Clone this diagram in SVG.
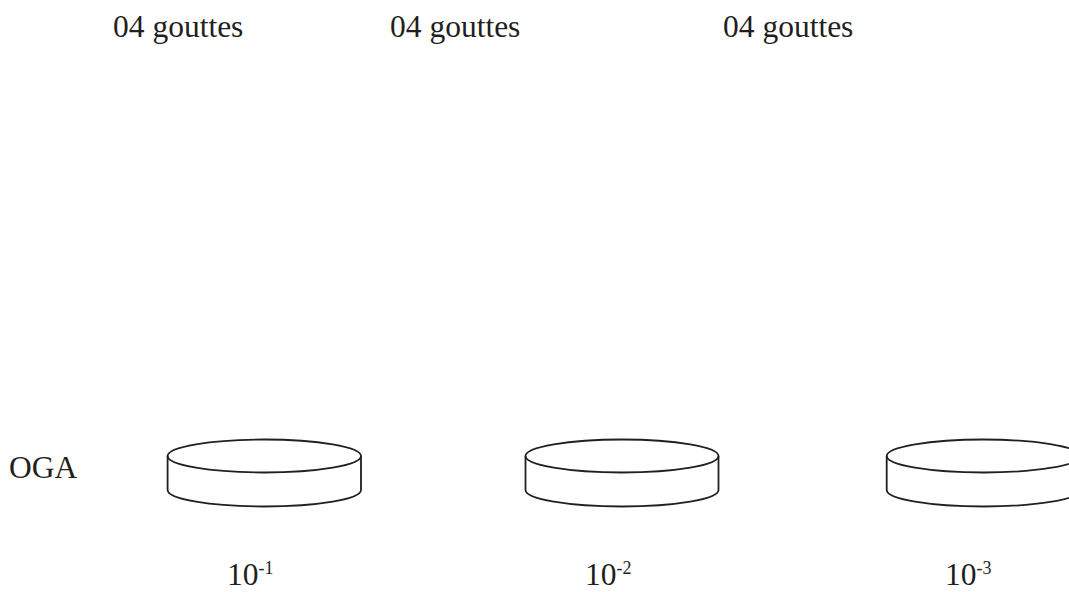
<svg xmlns="http://www.w3.org/2000/svg" width="1069" height="592" viewBox="0 0 1069 592">
<style>
.t{font-family:"Liberation Serif","Times New Roman",serif;font-size:31.5px;fill:#231f20}
.s{font-size:18px}
.d{fill:none;stroke:#231f20;stroke-width:1.8}
</style>
<rect width="1069" height="592" fill="#fff"/>
<g id="labels">
<text class="t" x="113" y="37">04 gouttes</text>
<text class="t" x="390" y="37">04 gouttes</text>
<text class="t" x="723" y="37">04 gouttes</text>
<text class="t" x="9" y="478">OGA</text>
</g>
<g id="dish1">
<ellipse class="d" cx="264.3" cy="456" rx="96.7" ry="16.5"/>
<path class="d" d="M167.6,456 V490 A96.7,16.5 0 0 0 361,490 V456"/>
</g>
<g id="dish2">
<ellipse class="d" cx="622" cy="456" rx="96.5" ry="16.5"/>
<path class="d" d="M525.5,456 V490 A96.5,16.5 0 0 0 718.5,490 V456"/>
</g>
<g id="dish3">
<ellipse class="d" cx="983.4" cy="456" rx="96.7" ry="16.5"/>
<path class="d" d="M886.7,456 V490 A96.7,16.5 0 0 0 1080.1,490 V456"/>
</g>
<g id="dilutions">
<text class="t" x="227" y="585">10<tspan class="s" y="574">-1</tspan></text>
<text class="t" x="585" y="585">10<tspan class="s" y="574">-2</tspan></text>
<text class="t" x="945" y="585">10<tspan class="s" y="574">-3</tspan></text>
</g>
<g id="connectors"></g>
</svg>
